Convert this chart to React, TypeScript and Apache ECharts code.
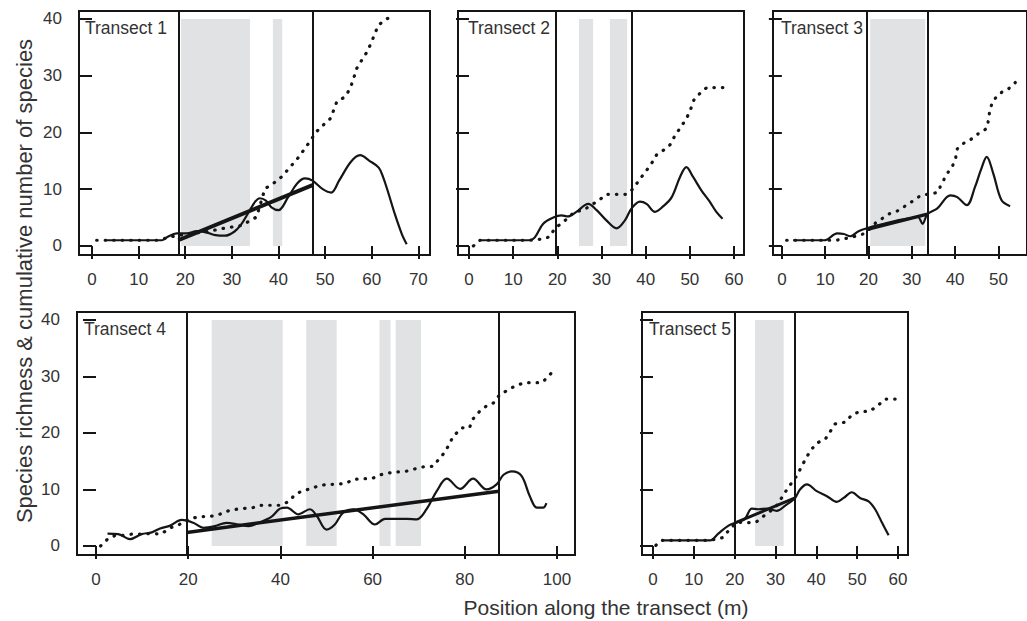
import React, { useEffect, useRef } from 'react';
import * as echarts from 'echarts';

const FONT = '"Liberation Sans", Arial, Helvetica, sans-serif';

// ---------- data ----------
const yTicks = [0, 10, 20, 30, 40];
const t1Ticks = [0, 10, 20, 30, 40, 50, 60, 70];
const t2Ticks = [0, 10, 20, 30, 40, 50, 60];
const t3Ticks = [0, 10, 20, 30, 40, 50];
const t4Ticks = [0, 20, 40, 60, 80, 100];
const t5Ticks = [0, 10, 20, 30, 40, 50, 60];

const t1Richness = [[2.8,1],[8,1],[15,1],[16,1.5],[18.2,2.2],[20.3,2.2],[22.5,2.6],[24.5,2.4],[26.5,1.9],[28.5,1.8],[30.5,2.5],[32,3.8],[33.5,5.8],[35,7.8],[36,8.4],[37.3,8],[38.5,6.8],[40,6.3],[42,8.5],[44,11],[45.7,11.9],[47.3,11.5],[49.5,10],[51.3,9.4],[53,11.5],[55.5,14.8],[57.5,16],[59.5,15],[61.5,13.8],[62.5,12],[63.5,9.5],[65,5.5],[66.5,2],[67.5,0.3]];
const t1Cumulative = [[1,1],[3,1],[6,1],[9,1],[12,1],[14,1],[16,1.4],[18,1.8],[20,2],[22.5,2.3],[24.6,2.5],[28.2,3.1],[32.1,3.6],[35.3,5.1],[37.1,10.1],[38.9,11],[40.7,12.2],[42.5,13.9],[44.1,15.4],[45.7,17.2],[46.9,18.6],[48.1,20.1],[49.6,21.3],[51.2,22.5],[52.5,25.4],[54.3,26.3],[55.4,27.8],[56.1,29.5],[56.8,31.3],[57.9,32.8],[59,34.2],[60,36],[61.4,38.9],[62.9,39.8],[63.8,40.3]];
const t1Regression = [[18.5,1.0],[47.3,10.7]];
const t1Bounds = [18.5, 47.3];
const t1Patches = [[19.1,33.9],[38.8,40.8]];

const t2Richness = [[2.5,1],[8,1],[13.8,1],[14.9,1.5],[16.8,3.9],[19.1,5],[20.9,5.4],[22.4,5.2],[24.3,6.0],[27,7.4],[28.9,6.3],[31.1,4.5],[33.4,3.1],[35.3,4.5],[36.8,6.6],[38.7,7.8],[40.2,7.4],[42.1,6.0],[44,7],[45.9,8.6],[47.8,12.2],[49.2,13.9],[50.7,12.2],[52.6,9.8],[54.5,7.8],[56,6],[57.4,4.8]];
const t2Cumulative = [[1,0],[2.5,1],[8,1],[13.8,1],[16.4,1.2],[18.3,1.6],[19.4,3.1],[21.2,4.1],[23.9,6],[25.9,6.3],[29.5,8.1],[31.1,9.1],[33.4,9.1],[35.7,9.1],[37.2,10.1],[38.5,11.6],[40,13.1],[41.3,14.5],[42.5,16.1],[44.1,16.9],[45.5,17.8],[46.6,19.4],[47.9,20.9],[49.2,22.4],[50.1,23.9],[50.9,25.7],[52.3,26.9],[53.8,27.9],[56,27.9],[58.4,27.9]];
const t2Bounds = [19.7, 36.9];
const t2Patches = [[24.9,28.1],[31.9,35.8]];

const t3Richness = [[2.6,1],[6,1],[9.8,1],[12.8,2.2],[14.3,2.1],[15.8,1.7],[17.7,2.6],[20,3.2],[23,3.8],[26.1,4.4],[29.1,4.8],[31.4,5.1],[32.5,3.9],[33.6,5.6],[35.9,6.6],[38.9,8.9],[40.5,8.6],[42.7,7.2],[44.6,10.4],[46,13.5],[47.3,15.7],[48.8,12.8],[50.7,8.1],[52.7,7]];
const t3Cumulative = [[1.1,1],[4,1],[8.3,1],[12.6,1],[16,1.5],[19.2,2.2],[21.7,4.1],[24.9,5.7],[26.8,6.2],[30.2,7.9],[32.1,8.9],[35.9,9.4],[37,11.1],[38.2,12.8],[39.3,13.9],[40.1,15.4],[40.5,17.1],[42,18.1],[43.9,18.9],[45.4,19.8],[47.3,20.7],[47.8,22.5],[48,24.1],[48.9,25.7],[50.3,26.9],[52.2,27.6],[53.9,28.8]];
const t3Regression = [[19.5,2.9],[33.6,5.6]];
const t3Bounds = [19.5, 33.6];
const t3Patches = [[20.4,33.1]];

const t4Richness = [[2.5,2.2],[4.8,2.1],[7.4,1.2],[9.9,2.1],[12.1,2.4],[13.9,3.1],[16.1,3.6],[18.6,4.6],[21.1,4.1],[23.3,3.2],[25.8,3.5],[28.3,4.1],[30.9,3.8],[33.1,3.5],[35.6,4.2],[38.1,5.2],[39.9,6.6],[41.4,6.8],[43.9,5.6],[46.4,6.5],[47.9,5.3],[50,2.9],[51.8,3.8],[53.6,5.9],[55.8,6.5],[58,5.6],[60.5,3.8],[62.7,4.8],[65.2,4.8],[67.4,4.8],[69.6,4.7],[71.7,6.5],[73.9,9.7],[76.1,11.9],[79,10.1],[81.8,11.9],[84.7,10],[86.9,10.9],[88.4,12.6],[90.2,13.2],[92.3,12.4],[94.1,8.8],[95.6,6.8],[97,6.8],[97.7,7.6]];
const t4Cumulative = [[1,0],[2.5,1.2],[4,1.8],[5.9,1.9],[7.9,2.1],[9.9,2.1],[12.3,2.2],[14.1,2.1],[16.1,3.2],[18.1,3.8],[20.2,4.8],[22.6,5.2],[24.7,5.2],[26.8,5.6],[28.7,6.2],[30.5,6.5],[34.1,6.8],[35.9,7.2],[38.1,7.2],[39.9,7.2],[41.7,7.8],[43.2,9.1],[44.6,9.7],[46.4,10.1],[48.2,10.6],[50,10.9],[52.2,10.9],[54.2,11.1],[55.9,11.8],[57.8,11.9],[59.8,11.9],[61.7,12.6],[63.4,12.9],[65.2,13.1],[67.2,13.2],[69,13.6],[71,14],[73.2,14.1],[74.3,15.3],[75.7,16.6],[77.5,19.4],[79.3,20.9],[81,20.9],[81.8,22.5],[83.2,23.8],[84.6,24.7],[86.2,25.3],[87.6,26.8],[89.4,27.6],[91.1,28.4],[93.1,28.9],[94.9,28.9],[96.7,28.9],[98.3,30.1],[99.6,31.6]];
const t4Regression = [[19.7,2.4],[87.4,9.7]];
const t4Bounds = [19.7, 87.4];
const t4Patches = [[25.1,40.5],[45.6,52.2],[61.5,63.9],[65,70.5]];

const t5Richness = [[2.1,1],[8,1],[14,1],[16,2.2],[18.5,3.6],[20.5,4.2],[22.5,4.8],[24.2,6.6],[25.8,6.5],[27.9,6.6],[30.3,6.2],[32.3,7.1],[34.8,8.5],[36,10],[37.7,10.9],[40.1,9.7],[42.6,8.8],[45,7.8],[46.7,8.5],[48.7,9.5],[50.7,8.5],[52.8,7.9],[54.4,6.5],[56.1,4.1],[57.7,1.9]];
const t5Cumulative = [[0.7,0.1],[2.1,1],[8,1],[14,1],[15.2,1.2],[17.2,1.5],[18.7,2.9],[20.5,4.2],[22.5,4.1],[25.2,4.2],[28,5.8],[30,6.8],[31.5,8.5],[32.8,10],[35.2,12.4],[37.3,15.3],[38.5,16.8],[40.1,18.2],[42.2,18.9],[44.6,21.6],[47.1,21.9],[48.7,23.2],[50.7,23.8],[53,23.8],[55,24.8],[56.9,26],[59.3,26]];
const t5Regression = [[20.1,4.1],[34.8,8.5]];
const t5Bounds = [20.1, 34.8];
const t5Patches = [[25,32]];

const panelNames = ['Transect 1', 'Transect 2', 'Transect 3', 'Transect 4', 'Transect 5'];
const yTitle = 'Species richness & cumulative number of species';
const xTitle = 'Position along the transect (m)';

const panels = [
  { rich: t1Richness, cum: t1Cumulative, reg: t1Regression, bounds: t1Bounds, patches: t1Patches, ticks: t1Ticks },
  { rich: t2Richness, cum: t2Cumulative, reg: null, bounds: t2Bounds, patches: t2Patches, ticks: t2Ticks },
  { rich: t3Richness, cum: t3Cumulative, reg: t3Regression, bounds: t3Bounds, patches: t3Patches, ticks: t3Ticks },
  { rich: t4Richness, cum: t4Cumulative, reg: t4Regression, bounds: t4Bounds, patches: t4Patches, ticks: t4Ticks },
  { rich: t5Richness, cum: t5Cumulative, reg: t5Regression, bounds: t5Bounds, patches: t5Patches, ticks: t5Ticks },
];

// ---------- layout ----------
const layout = [
  { left: 79, top: 11, width: 351, height: 244, xMin: -2.79, xMax: 72.5, yLabels: true, lx: 85, ly: 28, regW: 4 },
  { left: 458, top: 11, width: 286, height: 244, xMin: -2.49, xMax: 62.26, yLabels: false, lx: 468, ly: 28, regW: 3.5 },
  { left: 773, top: 11, width: 258, height: 244, xMin: -2.05, xMax: 56.6, yLabels: false, lx: 781, ly: 28, regW: 3.5 },
  { left: 77, top: 312, width: 498, height: 243, xMin: -4.12, xMax: 103.9, yLabels: true, lx: 84, ly: 329, regW: 3.5 },
  { left: 642, top: 312, width: 266, height: 243, xMin: -2.69, xMax: 62.45, yLabels: false, lx: 649, ly: 329, regW: 3 },
];

const INK = '#151515';
const TEXT = '#333333';
const PATCH = '#e1e2e4';

function buildOption() {
  const grid = layout.map((l) => ({
    left: l.left, top: l.top, width: l.width, height: l.height,
    show: true, borderColor: INK, borderWidth: 2, backgroundColor: 'rgba(0,0,0,0)',
  }));
  const xAxis = panels.map((p, i) => ({
    type: 'value', gridIndex: i, min: layout[i].xMin, max: layout[i].xMax,
    axisLine: { show: false },
    axisTick: { show: true, customValues: p.ticks, length: 13, lineStyle: { color: INK, width: 2 } },
    axisLabel: { customValues: p.ticks, fontSize: 17, color: TEXT, margin: 16, fontFamily: FONT },
    splitLine: { show: false },
  }));
  const yAxis = panels.map((p, i) => ({
    type: 'value', gridIndex: i, min: -1.6, max: 41.4,
    axisLine: { show: false },
    axisTick: { show: true, customValues: yTicks, length: 13, lineStyle: { color: INK, width: 2 } },
    axisLabel: { show: layout[i].yLabels, customValues: yTicks, fontSize: 17, color: TEXT, margin: 17, fontFamily: FONT },
    splitLine: { show: false },
  }));
  const series: any[] = [];
  panels.forEach((p, i) => {
    series.push({
      type: 'line', xAxisIndex: i, yAxisIndex: i, data: p.rich, smooth: 0.35,
      showSymbol: false, symbol: 'none', silent: true,
      lineStyle: { color: INK, width: 2.2 }, z: 4,
      markArea: {
        silent: true, itemStyle: { color: PATCH },
        data: p.patches.map((r) => [{ xAxis: r[0], yAxis: 0 }, { xAxis: r[1], yAxis: 40 }]),
      },
      markLine: {
        silent: true, symbol: 'none', label: { show: false },
        lineStyle: { color: INK, width: 2, type: 'solid' },
        data: p.bounds.map((b) => ({ xAxis: b })),
      },
    });
    series.push({
      type: 'line', xAxisIndex: i, yAxisIndex: i, data: p.cum,
      showSymbol: false, symbol: 'none', silent: true, z: 3,
      lineStyle: { color: INK, width: 3.2, type: [0.5, 8], cap: 'round' },
    });
    if (p.reg) {
      series.push({
        type: 'line', xAxisIndex: i, yAxisIndex: i, data: p.reg,
        showSymbol: false, symbol: 'none', silent: true, z: 5,
        lineStyle: { color: INK, width: layout[i].regW },
      });
    }
  });
  const graphic: any[] = panelNames.map((n, i) => ({
    type: 'text', x: layout[i].lx, y: layout[i].ly, silent: true,
    style: { text: n, fontSize: 17.5, fontFamily: FONT, fill: TEXT, align: 'left', verticalAlign: 'middle' },
  }));
  graphic.push({
    type: 'text', x: 24, y: 281, rotation: Math.PI / 2, silent: true,
    style: { text: yTitle, fontSize: 22, fontFamily: FONT, fill: TEXT, align: 'center', verticalAlign: 'middle' },
  });
  graphic.push({
    type: 'text', x: 606, y: 607, silent: true,
    style: { text: xTitle, fontSize: 21, fontFamily: FONT, fill: TEXT, align: 'center', verticalAlign: 'middle' },
  });
  return { animation: false, backgroundColor: '#ffffff', grid, xAxis, yAxis, series, graphic };
}

export default function App() {
  const ref = useRef<HTMLDivElement>(null);
  useEffect(() => {
    if (!ref.current) return;
    const chart = echarts.init(ref.current, undefined, { renderer: 'svg' });
    chart.setOption(buildOption() as any);
    return () => chart.dispose();
  }, []);
  return <div ref={ref} style={{ position: 'fixed', left: 0, top: 0, width: 1027, height: 621, background: '#fff' }} />;
}
